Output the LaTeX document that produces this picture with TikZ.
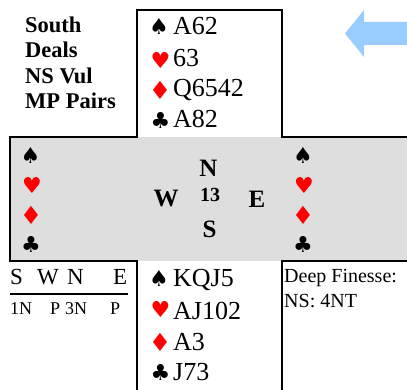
\documentclass[tikz,border=0pt]{standalone}
\usepackage{fontspec}
\setmainfont{Liberation Serif}
\newfontfamily\suitfont{DejaVu Sans}
\definecolor{tablegray}{RGB}{222,222,222}
\definecolor{arrowblue}{RGB}{153,204,255}
\definecolor{suitred}{RGB}{255,0,0}
\newcommand\SpadeSym{♠}
\newcommand\HeartSym{♥}
\newcommand\DiamondSym{♦}
\newcommand\ClubSym{♣}
\tikzset{
  frame/.style={line width=2.2pt, line cap=rect},
  cards/.style={anchor=base west, inner sep=0pt, font=\fontsize{26}{26}\selectfont},
  suitmark/.style={inner sep=0pt, font=\suitfont\fontsize{22}{22}\selectfont},
  redsuit/.style={suitmark, text=suitred},
  blacksuit/.style={suitmark, text=black},
  infotext/.style={anchor=base west, inner sep=0pt, font=\bfseries\fontsize{22.5}{22.5}\selectfont},
  compass/.style={anchor=base, inner sep=0pt, font=\bfseries\fontsize{25}{25}\selectfont},
  bidhead/.style={anchor=base west, inner sep=0pt, font=\fontsize{23}{23}\selectfont},
  bidcall/.style={anchor=base west, inner sep=0pt, font=\fontsize{18}{18}\selectfont},
  dfnote/.style={anchor=base west, inner sep=0pt, font=\fontsize{20}{20}\selectfont},
}
\begin{document}
\begin{tikzpicture}[x=1pt, y=-1pt]
\useasboundingbox (0,0) rectangle (407,390);

% grey table band
\fill[tablegray] (10,137) rectangle (407,261);

% frame lines
\draw[frame] (137,137) -- (10,137) -- (10,261) -- (137,261) -- (137,392);
\draw[frame] (137,137) -- (137,10) -- (282,10) -- (282,137) -- (409,137);
\draw[frame] (282,392) -- (282,261) -- (409,261);

% hint arrow
\fill[arrowblue] (407,22) -- (364,22) -- (364,10) -- (345,33.5) -- (364,57) -- (364,45) -- (407,45) -- cycle;

% deal information
\node[infotext] (dealer) at (25,33) {South};
\node[infotext] (deals) at (25,58) {Deals};
\node[infotext] (vul) at (25,84) {NS Vul};
\node[infotext] (scoring) at (25,109) {MP Pairs};

% North hand
\node[blacksuit] (ns) at (159,26.5) {\SpadeSym};
\node[redsuit] (nh) at (160.5,60) {\HeartSym};
\node[redsuit, font=\suitfont\fontsize{25}{25}\selectfont] (nd) at (160,90) {\DiamondSym};
\node[blacksuit] (nc) at (160.5,120) {\ClubSym};
\node[cards] (nsc) at (173,35) {A62};
\node[cards] (nhc) at (173,67) {63};
\node[cards] (ndc) at (173,97) {Q6542};
\node[cards] (ncc) at (173,128) {A82};

% West hand (no cards shown)
\node[blacksuit] (ws) at (30.5,155) {\SpadeSym};
\node[redsuit] (wh) at (32,185.5) {\HeartSym};
\node[redsuit, font=\suitfont\fontsize{25}{25}\selectfont] (wd) at (31,215.5) {\DiamondSym};
\node[blacksuit] (wc) at (31,244.5) {\ClubSym};

% East hand
\node[blacksuit] (es) at (303,155) {\SpadeSym};
\node[redsuit] (eh) at (304,185.5) {\HeartSym};
\node[redsuit, font=\suitfont\fontsize{25}{25}\selectfont] (ed) at (303,215.5) {\DiamondSym};
\node[blacksuit] (ec) at (303,244.5) {\ClubSym};

% compass with board number
\node[compass] (north) at (208.5,177) {N};
\node[compass, font=\bfseries\fontsize{20}{20}\selectfont] (board) at (210,202) {13};
\node[compass] (south) at (209.5,238) {S};
\node[compass] (west) at (166,207) {W};
\node[compass] (east) at (257,208) {E};

% South hand
\node[blacksuit] (ss) at (159,278.5) {\SpadeSym};
\node[redsuit] (sh) at (160.5,309.5) {\HeartSym};
\node[redsuit, font=\suitfont\fontsize{25}{25}\selectfont] (sd) at (160,342) {\DiamondSym};
\node[blacksuit] (sc) at (160.5,372) {\ClubSym};
\node[cards] (ssc) at (173,287) {KQJ5};
\node[cards] (shc) at (173,319) {AJ102};
\node[cards] (sdc) at (173,350) {A3};
\node[cards] (scc) at (173,380) {J73};

% auction
\node[bidhead] (bs) at (10,284) {S};
\node[bidhead] (bw) at (37,284) {W};
\node[bidhead] (bn) at (67,284) {N};
\node[bidhead] (be) at (113,284) {E};
\draw[line width=1.8pt] (10,294) -- (128,294);
\node[bidcall] (c1) at (10,314) {1N};
\node[bidcall] (c2) at (50,314) {P};
\node[bidcall] (c3) at (65,314) {3N};
\node[bidcall] (c4) at (110,314) {P};

% double dummy result
\node[dfnote] (df) at (284,283) {Deep Finesse:};
\node[dfnote] (dfres) at (284,307) {NS: 4NT};
\end{tikzpicture}
\end{document}
